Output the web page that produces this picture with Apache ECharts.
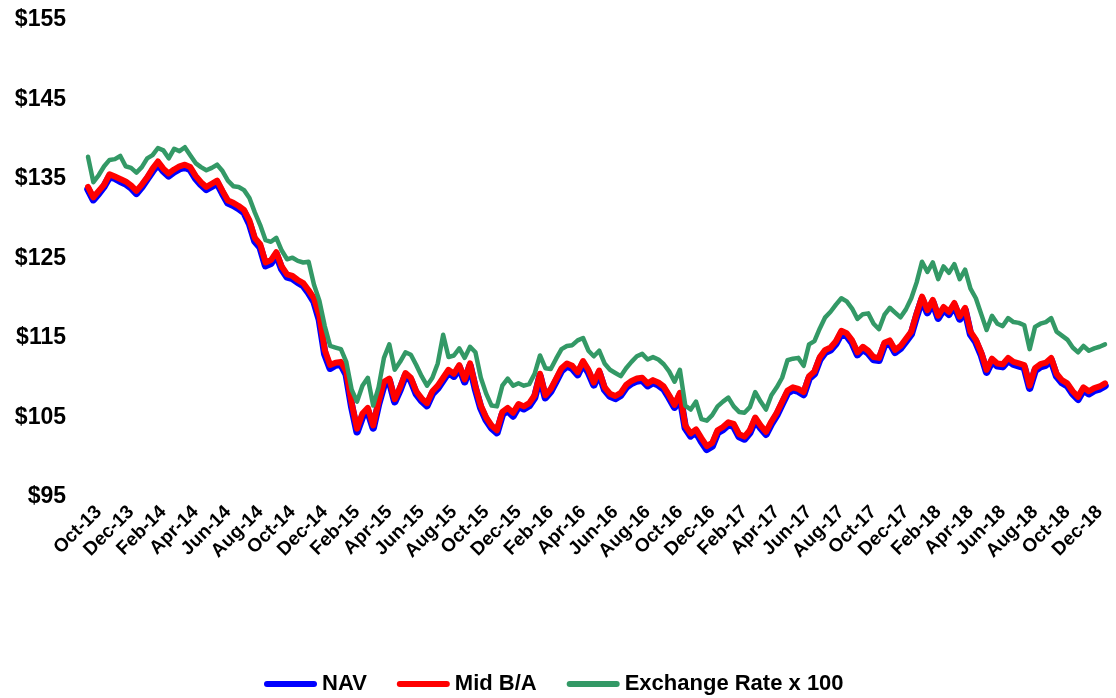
<!DOCTYPE html>
<html>
<head>
<meta charset="utf-8">
<script src="https://cdn.jsdelivr.net/npm/echarts@6/dist/echarts.min.js"></script>
<style>
  html, body { margin: 0; padding: 0; background: #ffffff; }
  #chart { width: 1116px; height: 698px; }
</style>
</head>
<body>
<div id="chart"></div>
<script>
// Tick labels shown on the x axis (every 2 months)
const tickLabels = ['Oct-13','Dec-13','Feb-14','Apr-14','Jun-14','Aug-14','Oct-14','Dec-14','Feb-15','Apr-15','Jun-15','Aug-15','Oct-15','Dec-15','Feb-16','Apr-16','Jun-16','Aug-16','Oct-16','Dec-16','Feb-17','Apr-17','Jun-17','Aug-17','Oct-17','Dec-17','Feb-18','Apr-18','Jun-18','Aug-18','Oct-18','Dec-18'];
const yTicks = [95, 105, 115, 125, 135, 145, 155];
const sampleDays = [1, 11, 21];
const startYear = 2013, startMonth = 10, monthCount = 63;
const endDate = '2018-12-31';

const navValues = [
133.7,132.4,133.2,134.1,135.3,135.1,134.7,134.4,133.9,133.2,
134.0,135.0,136.0,136.9,136.0,135.4,135.9,136.3,136.5,136.2,
135.1,134.3,133.7,134.1,134.5,133.2,132.0,131.7,131.3,130.8,
129.4,127.2,126.4,124.1,124.4,125.5,123.7,122.7,122.5,122.0,
121.6,120.7,119.6,117.3,113.0,111.2,111.6,111.7,110.4,106.4,
103.2,105.1,105.8,103.7,106.7,109.1,109.6,107.0,108.5,110.3,
109.7,108.0,107.1,106.5,108.0,108.7,109.7,110.7,110.2,111.3,
109.5,111.5,108.6,106.2,104.7,103.7,103.1,105.4,105.9,105.2,
106.4,106.1,106.5,107.5,110.2,107.5,108.3,109.6,110.9,111.5,
111.2,110.4,111.8,110.7,109.1,110.6,108.5,107.7,107.4,107.8,
108.8,109.3,109.6,109.7,109.0,109.4,109.1,108.6,107.5,106.3,
107.8,103.7,102.7,103.2,102.0,101.0,101.4,103.1,103.5,104.1,
103.9,102.6,102.3,103.1,104.7,103.7,102.9,104.2,105.3,106.7,
108.1,108.5,108.3,107.9,109.9,110.5,112.3,113.2,113.5,114.3,
115.6,115.3,114.4,112.9,113.6,113.1,112.3,112.2,114.1,114.4,
113.2,113.7,114.6,115.5,117.8,119.9,118.2,119.5,117.5,118.6,
118.0,119.1,117.4,118.5,115.5,114.5,112.9,110.7,112.1,111.5,
111.4,112.2,111.7,111.5,111.3,108.7,110.9,111.4,111.6,112.2,
110.2,109.4,109.0,108.0,107.3,108.5,108.0,108.4,108.6,109.0];

const midValues = [
134.0,132.7,133.5,134.3,135.6,135.3,135.0,134.7,134.2,133.5,
134.3,135.2,136.3,137.2,136.3,135.7,136.2,136.6,136.8,136.5,
135.4,134.6,134.0,134.4,134.8,133.5,132.3,132.0,131.6,131.1,
129.8,127.6,126.8,124.5,124.8,125.8,124.0,123.0,122.8,122.3,
121.9,121.0,120.0,117.8,113.5,111.6,111.9,112.0,110.8,106.8,
103.6,105.5,106.2,104.0,107.0,109.5,109.9,107.3,108.8,110.6,
110.0,108.3,107.4,106.8,108.3,109.0,110.0,111.0,110.5,111.6,
109.8,111.8,108.9,106.5,105.0,104.0,103.4,105.7,106.2,105.6,
106.7,106.4,106.8,107.8,110.5,107.8,108.6,109.9,111.2,111.8,
111.5,110.7,112.1,111.0,109.4,110.9,108.8,108.0,107.7,108.1,
109.1,109.6,109.9,110.0,109.3,109.7,109.4,108.9,107.8,106.6,
108.1,104.0,103.0,103.5,102.4,101.4,101.8,103.4,103.8,104.4,
104.2,102.9,102.6,103.4,105.0,104.0,103.2,104.5,105.6,107.0,
108.4,108.8,108.6,108.2,110.2,110.8,112.6,113.5,113.8,114.6,
115.9,115.6,114.7,113.2,113.9,113.4,112.6,112.5,114.4,114.7,
113.5,114.0,114.9,115.8,118.1,120.2,118.5,119.8,117.8,118.9,
118.3,119.4,117.7,118.8,115.8,114.8,113.2,111.0,112.4,111.8,
111.7,112.5,112.0,111.8,111.6,109.0,111.2,111.7,111.9,112.5,
110.5,109.7,109.3,108.3,107.6,108.8,108.3,108.7,108.9,109.3];

const fxValues = [
137.8,134.6,135.5,136.6,137.4,137.5,137.9,136.6,136.4,135.8,
136.5,137.6,138.0,138.9,138.6,137.6,138.8,138.5,139.0,138.0,
137.0,136.5,136.1,136.4,136.8,136.0,134.8,134.1,134.0,133.6,
132.6,130.8,129.2,127.3,127.1,127.6,126.0,124.9,125.1,124.7,
124.5,124.6,121.7,119.7,116.5,114.0,113.8,113.6,112.0,108.5,
107.0,109.0,110.0,106.5,108.8,112.5,114.2,111.0,112.0,113.2,
112.9,111.6,110.2,109.0,110.0,111.8,115.4,112.6,112.8,113.7,
112.5,113.9,113.2,110.0,108.0,106.5,106.4,109.0,109.9,109.0,
109.3,109.0,109.2,110.5,112.8,111.2,111.1,112.4,113.6,114.0,
114.1,114.7,115.0,113.4,112.7,113.4,111.8,111.0,110.6,110.2,
111.2,112.0,112.7,113.0,112.3,112.6,112.3,111.7,110.8,109.5,
111.0,106.5,106.0,107.0,104.8,104.6,105.3,106.4,107.0,107.5,
106.4,105.7,105.6,106.3,108.2,107.0,106.0,107.8,108.8,110.0,
112.2,112.4,112.5,111.5,114.2,114.6,116.2,117.6,118.3,119.2,
120.0,119.6,118.7,117.4,118.0,118.1,116.8,116.1,117.9,118.8,
118.2,117.6,118.6,120.0,122.0,124.6,123.3,124.5,122.4,124.0,
123.2,124.3,122.4,123.6,121.2,120.0,118.0,116.0,117.8,116.8,
116.5,117.5,117.0,116.9,116.6,113.6,116.4,116.8,117.0,117.5,
115.8,115.3,114.8,113.8,113.2,114.0,113.4,113.7,113.9,114.2];

// Build date categories (3 samples per month + final day)
const categories = [];
for (let m = 0; m < monthCount; m++) {
  const y = startYear + Math.floor((startMonth - 1 + m) / 12);
  const mo = ((startMonth - 1 + m) % 12) + 1;
  sampleDays.forEach(d => {
    categories.push(y + '-' + String(mo).padStart(2, '0') + '-' + String(d).padStart(2, '0'));
  });
}
categories.push(endDate);

const FONT = 'Arial, "Liberation Sans", sans-serif';
const capsule = 'path://M3,0 L50,0 A3,3 0 0 1 50,6 L3,6 A3,3 0 0 1 3,0 Z';
const labelOffset = 2; // labels sit slightly right of the month start, as in the reference

const chart = echarts.init(document.getElementById('chart'), null, { renderer: 'canvas' });
chart.setOption({
  animation: false,
  backgroundColor: '#ffffff',
  grid: { left: 88, right: 11, top: 20, bottom: 201, containLabel: false },
  legend: {
    left: 259,
    top: 668,
    itemWidth: 53,
    itemHeight: 6,
    itemGap: 30,
    textStyle: { fontFamily: FONT, fontWeight: 'bold', fontSize: 22, color: '#000' },
    data: [
      { name: 'NAV', icon: capsule },
      { name: 'Mid B/A', icon: capsule },
      { name: 'Exchange Rate x 100', icon: capsule }
    ]
  },
  xAxis: {
    type: 'category',
    data: categories,
    boundaryGap: false,
    axisLine: { show: false },
    axisTick: { show: false },
    splitLine: { show: false },
    axisLabel: {
      interval: (i) => i % 6 === labelOffset,
      formatter: (v, i) => tickLabels[Math.round((i - labelOffset) / 6)] || '',
      rotate: 45,
      margin: 12,
      fontFamily: FONT,
      fontWeight: 'bold',
      fontSize: 19,
      color: '#000'
    }
  },
  yAxis: {
    type: 'value',
    min: yTicks[0],
    max: yTicks[yTicks.length - 1],
    interval: 10,
    axisLine: { show: false },
    axisTick: { show: false },
    splitLine: { show: false },
    axisLabel: {
      formatter: (v) => '$' + v,
      margin: 22,
      fontFamily: FONT,
      fontWeight: 'bold',
      fontSize: 23,
      color: '#000'
    }
  },
  series: [
    { name: 'NAV', type: 'line', data: navValues, showSymbol: false, symbol: 'none',
      lineStyle: { color: '#0000FF', width: 7.5, cap: 'round', join: 'round' }, itemStyle: { color: '#0000FF' } },
    { name: 'Mid B/A', type: 'line', data: midValues, showSymbol: false, symbol: 'none',
      lineStyle: { color: '#FF0000', width: 6, cap: 'round', join: 'round' }, itemStyle: { color: '#FF0000' } },
    { name: 'Exchange Rate x 100', type: 'line', data: fxValues, showSymbol: false, symbol: 'none',
      lineStyle: { color: '#339966', width: 4.5, cap: 'round', join: 'round' }, itemStyle: { color: '#339966' } }
  ]
});
</script>
</body>
</html>
